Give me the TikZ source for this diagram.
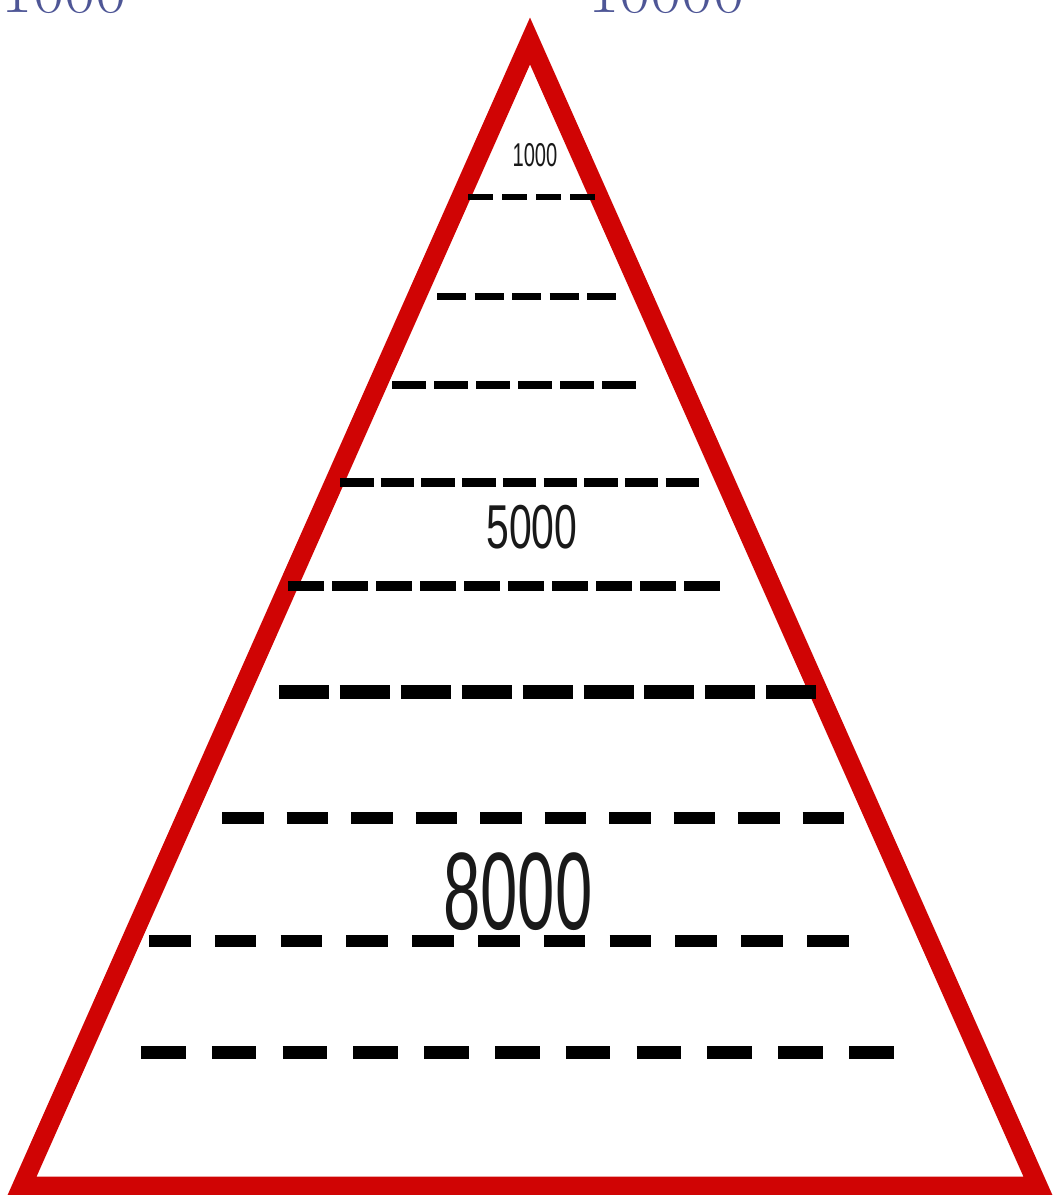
\documentclass[tikz,border=0pt]{standalone}
\usepackage{fontspec}
\newfontfamily\condA[FakeStretch=0.61]{Liberation Sans}
\newfontfamily\condB[FakeStretch=0.66]{Liberation Sans}
\definecolor{pyrred}{RGB}{208,4,4}
\definecolor{headblue}{RGB}{78,86,150}
\tikzset{
  pyr/.style={draw=pyrred, line width=19pt, line join=miter},
  rowline/.style={draw=black, line cap=butt},
  lbl/.style={inner sep=0pt, text=black!90},
  head/.style={inner sep=0pt, text=headblue, font=\fontsize{68}{70}\selectfont}
}
\begin{document}
\begin{tikzpicture}[x=1pt,y=-1pt]
\useasboundingbox (0,0) rectangle (1053,1195);
\clip (0,0) rectangle (1053,1195);
\fill[white] (0,0) rectangle (1053,1195);
% cut-off heading
\node[head, anchor=base east] (h1) at (127,12) {1000};
\node[head, anchor=base west] (h2) at (588,12) {10000};
% triangle
\coordinate (apex) at (530,41);
\coordinate (bl) at (22,1186);
\coordinate (br) at (1038,1186);
\draw[pyr] (apex) -- (bl) -- (br) -- cycle;
% dashed rows: start, y, dash, gap, count, width
\coordinate (r1) at (468,197);
\draw[rowline, line width=6pt, dash pattern=on 25pt off 9pt] (r1) -- ++(127,0);
\coordinate (r2) at (437,296);
\draw[rowline, line width=7pt, dash pattern=on 29pt off 8.5pt] (r2) -- ++(179,0);
\coordinate (r3) at (392,385);
\draw[rowline, line width=8pt, dash pattern=on 33.5pt off 8.5pt] (r3) -- ++(243.5,0);
\coordinate (r4) at (340,482);
\draw[rowline, line width=9pt, dash pattern=on 33.5pt off 7.2pt] (r4) -- ++(359,0);
\coordinate (r5) at (288,586);
\draw[rowline, line width=10pt, dash pattern=on 35.5pt off 8.5pt] (r5) -- ++(431.5,0);
\coordinate (r6) at (279,692);
\draw[rowline, line width=14pt, dash pattern=on 50pt off 10.9pt] (r6) -- ++(537,0);
\coordinate (r7) at (222,818);
\draw[rowline, line width=12pt, dash pattern=on 41.5pt off 23pt] (r7) -- ++(622,0);
\coordinate (r8) at (149,941);
\draw[rowline, line width=12pt, dash pattern=on 41.5pt off 24.3pt] (r8) -- ++(699.5,0);
\coordinate (r9) at (141,1052);
\draw[rowline, line width=13pt, dash pattern=on 44.5pt off 26.3pt] (r9) -- ++(752.5,0);
% labels
\node[lbl, font=\condA\fontsize{33}{35}\selectfont] (l1000) at (535,155) {1000};
\node[lbl, font=\condB\fontsize{62}{64}\selectfont] (l5000) at (532,527) {5000};
\node[lbl, font=\condA\fontsize{110}{112}\selectfont] (l8000) at (518,892) {8000};
\end{tikzpicture}
\end{document}
